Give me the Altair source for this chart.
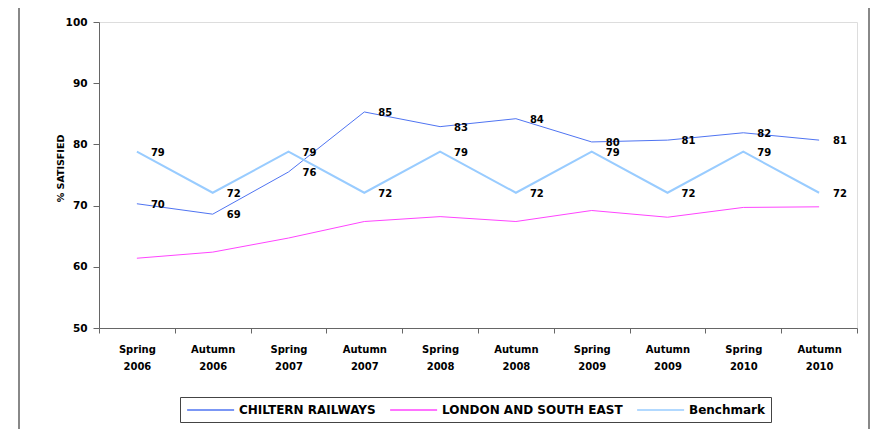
import altair as alt
import pandas as pd

categories = ["Spring 2006", "Autumn 2006", "Spring 2007", "Autumn 2007", "Spring 2008",
              "Autumn 2008", "Spring 2009", "Autumn 2009", "Spring 2010", "Autumn 2010"]
chiltern = [70.3, 68.6, 75.5, 85.3, 82.9, 84.2, 80.4, 80.7, 81.9, 80.7]
lse = [61.4, 62.4, 64.7, 67.4, 68.2, 67.4, 69.2, 68.1, 69.7, 69.8]
benchmark = [78.8, 72.1, 78.8, 72.1, 78.8, 72.1, 78.8, 72.1, 78.8, 72.1]

series_names = ["CHILTERN RAILWAYS", "LONDON AND SOUTH EAST", "Benchmark"]
series_colors = ["#4F74F2", "#FF44FF", "#99CCFF"]
y_ticks = [50, 60, 70, 80, 90, 100]

rows = []
for name, vals in zip(series_names, [chiltern, lse, benchmark]):
    for c, v in zip(categories, vals):
        rows.append({"period": c, "series": name, "value": v})
df = pd.DataFrame(rows)
labelled = df[df.series != "LONDON AND SOUTH EAST"].copy()
labelled["label"] = labelled["value"].round(0).astype(int).astype(str)

FONT = "DejaVu Sans"
AXIS_COLOR = "#666666"

x_enc = alt.X(
    "period:N", sort=categories, bandPosition=0.5,
    scale=alt.Scale(type="band", paddingInner=0, paddingOuter=0),
    axis=alt.Axis(title=None, labelAngle=0, labelExpr="split(datum.label, ' ')",
                  tickBand="extent", grid=False, domainColor=AXIS_COLOR, tickColor=AXIS_COLOR,
                  tickSize=5, labelPadding=11, labelFont=FONT, labelFontSize=10,
                  labelFontWeight="bold", labelColor="#000", labelLineHeight=17),
)
y_enc = alt.Y(
    "value:Q", scale=alt.Scale(domain=[50, 100], nice=False, zero=False),
    axis=alt.Axis(title="% SATISFIED", values=y_ticks, grid=False, domainColor=AXIS_COLOR,
                  tickColor=AXIS_COLOR, tickSize=6, labelPadding=6, labelFont=FONT,
                  labelFontSize=10.5, labelFontWeight="bold", labelColor="#000",
                  titleFont=FONT, titleFontSize=9.5, titleFontWeight="bold", titleColor="#000",
                  titleX=-39, titleY=146, titleBaseline="middle", titleAlign="center"),
)

lines = alt.Chart(df).mark_line().encode(
    x=x_enc,
    y=y_enc,
    color=alt.Color("series:N", sort=series_names,
                    scale=alt.Scale(domain=series_names, range=series_colors),
                    legend=alt.Legend(title=None, orient="none", legendX=81, legendY=375,
                                      direction="horizontal", symbolType="M-1,0H7",
                                      symbolSize=138, symbolStrokeWidth=1.5,
                                      labelFont=FONT, labelFontSize=12,
                                      labelFontWeight="bold", labelColor="#000", labelLimit=0,
                                      labelOffset=39, columnPadding=11, padding=6,
                                      strokeColor="#444", fillColor="#fff")),
    strokeWidth=alt.condition(alt.datum.series == "Benchmark", alt.value(2), alt.value(1)),
    detail="series:N",
)

labels = alt.Chart(labelled).mark_text(
    align="left", baseline="middle", dx=14, dy=1, font=FONT, fontSize=10,
    fontWeight="bold", color="#000",
).encode(
    x=alt.X("period:N", sort=categories, bandPosition=0.5),
    y=alt.Y("value:Q"),
    text="label:N",
)

frame = alt.Chart(pd.DataFrame({"f": [0]})).mark_rect(
    fill="transparent", stroke="#888888", strokeWidth=2,
).encode(x=alt.value(-80), x2=alt.value(770), y=alt.value(-40), y2=alt.value(440))

chart = alt.layer(frame, lines, labels).properties(
    width=758, height=306,
    autosize=alt.AutoSizeParams(type="none"),
    padding={"left": 91, "top": 14, "right": 13, "bottom": 101},
).configure_view(stroke=None).configure(background="#ffffff")

chart.save("out.html", embed_options={"renderer": "svg", "actions": False})
